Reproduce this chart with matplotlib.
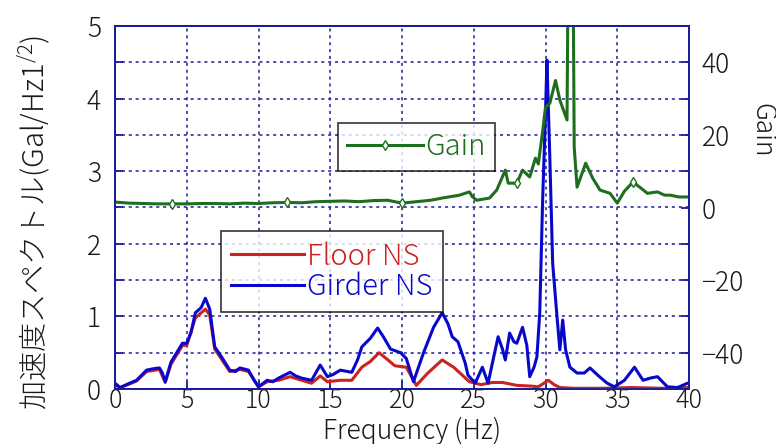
import matplotlib
matplotlib.use("Agg")
import matplotlib.pyplot as plt
import numpy as np
from matplotlib.ticker import MultipleLocator

plt.rcParams['font.family'] = ['Noto Sans CJK JP', 'DejaVu Sans']
plt.rcParams['font.weight'] = 'light'
plt.rcParams['mathtext.fontset'] = 'custom'
plt.rcParams['mathtext.rm'] = 'Noto Sans CJK JP:light'

# Girder NS spectrum (Gal/Hz^1/2)
girder_f = [0.0, 0.35, 0.9, 1.5, 1.9, 2.2, 2.7, 3.1, 3.3, 3.5, 3.9, 4.3, 4.7, 5.0, 5.3, 5.6,
            6.0, 6.3, 6.6, 6.95, 7.4, 8.0, 8.4, 8.7, 9.3, 9.7, 10.0, 10.6, 11.0, 11.4, 12.2,
            12.6, 13.0, 13.7, 14.3, 14.8, 15.2, 15.7, 16.5, 16.9, 17.2, 17.8, 18.3, 18.7,
            19.2, 19.9, 20.3, 20.8, 21.5, 22.2, 22.8, 23.2, 23.5, 23.9, 24.4, 24.6, 25.1,
            25.6, 26.0, 26.4, 26.7, 27.0, 27.2, 27.5, 27.8, 28.0, 28.4, 28.7, 28.9, 29.2,
            29.4, 29.6, 29.8, 30.0, 30.1, 30.3, 30.5, 30.8, 31.0, 31.2, 31.4, 31.7, 32.2,
            32.7, 33.1, 33.7, 34.3, 34.8, 35.5, 36.2, 36.8, 37.3, 37.8, 38.5, 39.2, 39.9, 40.0]
girder_ns = [0.08, 0.02, 0.07, 0.12, 0.2, 0.26, 0.28, 0.29, 0.22, 0.1, 0.37, 0.5, 0.63, 0.63,
             0.78, 1.05, 1.12, 1.25, 1.1, 0.58, 0.45, 0.26, 0.24, 0.29, 0.26, 0.12, 0.03, 0.12,
             0.1, 0.15, 0.23, 0.18, 0.15, 0.12, 0.33, 0.17, 0.2, 0.26, 0.23, 0.4, 0.58, 0.7,
             0.84, 0.72, 0.55, 0.5, 0.42, 0.1, 0.5, 0.85, 1.05, 0.9, 0.72, 0.65, 0.36, 0.19,
             0.08, 0.3, 0.08, 0.45, 0.72, 0.55, 0.4, 0.77, 0.65, 0.63, 0.85, 0.6, 0.17, 0.3,
             0.44, 1.05, 2.6, 3.8, 4.53, 3.2, 1.73, 1.0, 0.54, 0.95, 0.54, 0.3, 0.22, 0.22,
             0.29, 0.18, 0.08, 0.03, 0.12, 0.3, 0.12, 0.15, 0.17, 0.03, 0.02, 0.08, 0.08]

# Floor NS spectrum (Gal/Hz^1/2)
floor_f = [0.0, 0.35, 0.9, 1.5, 2.2, 3.1, 3.5, 3.9, 4.7, 5.0, 5.6, 6.3, 6.6, 6.95, 8.0, 8.7,
           9.3, 10.0, 10.6, 11.4, 12.2, 13.0, 13.7, 14.3, 14.8, 15.7, 16.5, 17.2, 17.8,
           18.4, 18.9, 19.5, 20.3, 21.0, 21.8, 22.8, 23.6, 24.7, 25.5, 26.3, 27.0, 28.0,
           29.0, 29.5, 30.2, 30.6, 31.0, 32.0, 34.0, 36.0, 38.0, 40.0]
floor_ns = [0.06, 0.02, 0.06, 0.11, 0.24, 0.27, 0.09, 0.34, 0.6, 0.6, 0.98, 1.1, 1.02, 0.55,
            0.24, 0.27, 0.24, 0.03, 0.1, 0.12, 0.17, 0.12, 0.08, 0.18, 0.1, 0.12, 0.12, 0.3,
            0.38, 0.5, 0.42, 0.32, 0.3, 0.05, 0.22, 0.4, 0.3, 0.1, 0.06, 0.09, 0.09, 0.05,
            0.04, 0.03, 0.12, 0.06, 0.02, 0.01, 0.01, 0.02, 0.01, 0.02]

# Gain (Girder / Floor)
gain_f = [0.0, 1.0, 2.0, 3.0, 4.0, 5.0, 6.0, 7.0, 8.0, 9.0, 10.0, 11.0, 12.0, 13.0, 14.0,
          15.0, 16.0, 17.0, 18.0, 19.0, 20.0, 21.0, 22.0, 22.8, 24.0, 24.7, 24.9, 25.2,
          26.1, 26.6, 27.2, 27.4, 28.0, 28.4, 28.9, 29.3, 29.5, 29.8, 30.0, 30.3, 30.7,
          31.0, 31.5, 31.6, 31.9, 32.0, 32.2, 32.8, 33.3, 33.8, 34.5, 35.0, 35.5, 36.1,
          36.6, 37.1, 37.8, 38.3, 38.7, 39.3, 39.9, 40.0]
gain = [1.5, 1.2, 1.1, 1.0, 1.0, 1.0, 1.1, 1.1, 1.0, 1.2, 1.1, 1.3, 1.4, 1.3, 1.6, 1.7, 1.8,
        1.6, 1.9, 2.0, 1.2, 1.6, 2.0, 2.6, 3.4, 4.3, 3.0, 2.0, 2.6, 4.8, 10.3, 6.7, 6.7,
        10.3, 8.4, 13.6, 12.0, 21.0, 27.6, 28.7, 35.0, 29.6, 24.1, 80.0, 80.0, 16.6, 5.6,
        12.2, 8.0, 4.8, 3.9, 1.2, 4.5, 7.0, 5.5, 3.9, 4.3, 3.4, 3.4, 2.9, 2.9, 2.9]
gain_marker_f = [4.0, 12.0, 20.0, 28.0, 36.0]

x_ticks = [0, 5, 10, 15, 20, 25, 30, 35, 40]
left_ticks = [0, 1, 2, 3, 4, 5]
right_ticks = [-40, -20, 0, 20, 40]

navy = '#1c1c9a'
red = '#cc2222'
blue = '#0808cc'
green = '#1e6e1e'
txt_col = '#1a1a1a'
fs = 19
lfs = 21

fig = plt.figure(figsize=(7.76, 4.44), dpi=100)
ax = fig.add_axes([115/776, 1-389/444, (689-115)/776, (389-26)/444])
ax2 = ax.twinx()

ax.plot(floor_f, floor_ns, color=red, lw=2.2, label='Floor NS', zorder=3)
ax.plot(girder_f, girder_ns, color=blue, lw=2.2, label='Girder NS', zorder=4)

gain_arr = np.asarray(gain_f)
marker_idx = [int(np.argmin(np.abs(gain_arr - f))) for f in gain_marker_f]
ax2.plot(gain_f, gain, color=green, lw=2.2, marker='d', markersize=5,
         markerfacecolor='white', markeredgecolor=green, markevery=marker_idx,
         label='Gain')

ax.set_xlim(0, 40)
ax.set_ylim(0, 5)
ax2.set_ylim(-50, 50)

ax.set_xticks(x_ticks)
ax.set_xticklabels([str(t) for t in x_ticks])
ax.set_yticks(left_ticks)
ax.set_yticklabels([str(t) for t in left_ticks])
ax.yaxis.set_minor_locator(MultipleLocator(0.5))
ax2.set_yticks(right_ticks)
ax2.set_yticklabels(['\u2212' + str(-t) if t < 0 else str(t) for t in right_ticks])
ax2.yaxis.set_minor_locator(MultipleLocator(10))

ax.grid(True, which='both', color=navy, linestyle=(0, (2, 2.5)), lw=1.1)
ax.set_axisbelow(True)

for a in (ax, ax2):
    for s in a.spines.values():
        s.set_color(navy)
        s.set_linewidth(1.3)
    a.tick_params(which='both', direction='in', colors=navy, labelcolor=txt_col,
                  labelsize=fs, width=1.3, length=6)
ax.tick_params(axis='x', pad=-1, labelsize=18)
ax.tick_params(axis='y', pad=10)
ax2.tick_params(axis='y', pad=9)

fig.text(412/776, 1-431/444, 'Frequency (Hz)', ha='center', va='center',
         fontsize=fs, color=txt_col)
fig.text(34/776, 1-222/444, '加速度スペクトル(Gal/Hz1$^{/2}$)', ha='center', va='center',
         rotation=90, fontsize=21, color=txt_col)
fig.text(762/776, 1-130/444, 'Gain', ha='center', va='center', rotation=270,
         fontsize=fs, color=txt_col)

leg1 = ax.legend(loc='upper left', bbox_to_anchor=((221-115)/574, (389-231)/363),
                 fontsize=lfs, frameon=True, fancybox=False, handlelength=2.5,
                 handletextpad=0.1, borderpad=0.35, labelspacing=0.0, borderaxespad=0)
leg1.get_frame().set_edgecolor('black')
leg1.get_frame().set_linewidth(1.2)
for txt, c in zip(leg1.get_texts(), (red, blue)):
    txt.set_color(c)
leg1.set_zorder(10)

leg2 = ax2.legend(loc='upper left', bbox_to_anchor=((338-115)/574, (389-123)/363),
                  fontsize=lfs, frameon=True, fancybox=False, handlelength=2.6,
                  handletextpad=0.1, borderpad=0.3, borderaxespad=0)
leg2.get_frame().set_edgecolor('black')
leg2.get_frame().set_linewidth(1.2)
leg2.get_texts()[0].set_color(green)
leg2.set_zorder(10)

fig.savefig('out.png', dpi=100)
